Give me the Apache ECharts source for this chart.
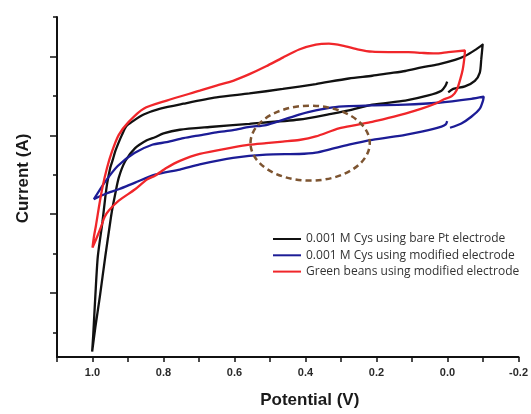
<!DOCTYPE html>
<html>
<head>
<meta charset="utf-8">
<script src="https://cdn.jsdelivr.net/npm/echarts@6/dist/echarts.min.js"></script>
<style>
html,body{margin:0;padding:0;background:#fff;}
#chart{width:531px;height:414px;}
</style>
</head>
<body>
<div id="chart"></div>
<script>
// Potential (V) and current (arbitrary units) for each voltammogram, in scan order
var blackV = [-0.002,-0.016,-0.049,-0.077,-0.091,-0.095,-0.099,
  -0.077,-0.049,-0.021,0.026,0.073,0.119,0.166,0.212,0.278,0.371,0.464,0.558,0.651,0.744,0.809,0.856,0.889,0.905,0.917,0.927,0.936,0.943,0.950,0.959,0.964,0.972,0.985,0.992,0.998,1.001,
  0.992,0.979,0.964,0.950,0.945,0.936,0.926,0.908,0.880,0.847,0.824,0.800,0.754,0.670,0.558,0.418,0.324,0.278,0.212,0.119,0.054,0.017,0.006,0.001];
var blackI = [60.9,61.75,62.4,63.8,65.9,69.25,73,
  71.6,70.1,69.1,68,67.2,66.3,65.7,65.1,64.4,63,61.75,60.6,59.6,58,56.75,55.25,53.4,52.25,50.1,48,45.9,43.75,41.75,37.6,34.25,28,19.25,9.25,-0.75,-4.9,
  1.25,9.25,19.25,28,30.9,35.1,39.25,43.4,46.75,48.75,49.5,50.5,51.4,52.1,52.9,54,55.5,56.3,57.75,58.8,60.1,61.3,62.5,63.6];

var blueV = [-0.007,-0.039,-0.067,-0.091,-0.100,-0.102,
  -0.067,0.026,0.119,0.212,0.278,0.324,0.371,0.418,0.464,0.511,0.558,0.604,0.651,0.698,0.744,0.791,0.832,0.882,0.929,0.966,0.996,
  0.964,0.926,0.880,0.824,0.754,0.698,0.604,0.511,0.418,0.371,0.324,0.278,0.212,0.119,0.073,0.017,0.005,0.001];
var blueI = [51.9,53,54.7,56.75,58.8,59.8,
  59.25,58.25,57.75,57.6,57.4,57.1,56.3,55.25,53.9,52.6,52.1,51.3,50.75,50,49.25,48.25,47.6,45.5,42.2,38,33.8,
  35.1,36.3,38,40,41.3,42.6,44.25,45.1,45.25,45.6,46.6,47.6,48.8,50.1,50.9,52.2,52.75,53.6];

var redV = [0.007,0.035,0.073,0.119,0.166,0.212,0.259,0.306,0.371,0.418,0.464,0.511,0.558,0.604,0.698,0.754,0.791,0.824,0.847,0.880,0.926,0.954,0.966,0.976,0.987,1.000,
  0.996,0.990,0.982,0.972,0.959,0.945,0.926,0.898,0.856,0.791,0.698,0.651,0.604,0.558,0.511,0.464,0.418,0.371,0.334,0.296,0.250,0.212,0.166,0.110,0.073,0.035,-0.002,-0.049,
  -0.048,-0.043,-0.036,-0.026,-0.013,0.007];
var redI = [59.25,58,56.75,55.5,54.4,53.4,52.6,51.75,49.7,48.8,48.4,48,47.6,46.9,45.25,43.5,41.75,39.75,38.75,36.3,33.4,30.9,29.25,26.75,24.25,21.5,
  24.25,27.25,31.75,36.75,41.75,45.9,50.1,53.4,56.75,58.8,61.3,62.6,63.8,65.5,67.5,69.7,71.75,73,73.25,72.75,71.75,71.2,71.1,71.1,70.9,70.75,71.1,71.5,
  70,66.75,64.25,61.5,60,59.25];

var seriesNames = ['0.001 M Cys using bare Pt electrode','0.001 M Cys using modified electrode','Green beans using modified electrode'];
var seriesColors = ['#111111','#1c1c96','#f0262a'];

var xTickLabels = ['1.0','0.8','0.6','0.4','0.2','0.0','-0.2'];
var yMajorTicks = [10,30,50,70];
var yMinorTicks = [0,20,40,60,80];

// dashed annotation ellipse (data units): centre potential, centre current, half-width (V), half-height (current)
var ringCenter = [0.387, 48];
var ringRadius = [0.168, 9.5];

function zip(a,b){ var r=[]; for(var i=0;i<a.length;i++) r.push([a[i],b[i]]); return r; }

var chart = echarts.init(document.getElementById('chart'), null, {renderer:'canvas'});
var axisFont = 'Liberation Sans, Arial, sans-serif';
var option = {
  animation:false,
  backgroundColor:'#ffffff',
  grid:{left:57,right:10.5,top:17,bottom:52,containLabel:false},
  legend:{
    orient:'vertical', left:268, top:227,
    icon:'rect', itemWidth:28, itemHeight:2, itemGap:2.3,
    textStyle:{fontFamily:'Open Sans, sans-serif', fontSize:12, color:'#333', lineHeight:14},
    data:seriesNames
  },
  xAxis:{
    type:'value', inverse:true, min:-0.2, max:1.1, interval:0.1,
    name:'Potential (V)', nameLocation:'middle', nameGap:35,
    nameTextStyle:{fontFamily:axisFont, fontWeight:'bold', fontSize:17, color:'#1a1a1a', padding:[0,0,0,44]},
    axisLine:{onZero:false, lineStyle:{color:'#111',width:2}},
    axisTick:{inside:false,length:5,lineStyle:{color:'#111',width:1.5}},
    axisLabel:{margin:10, fontFamily:axisFont, fontWeight:'bold', fontSize:11, color:'#2a2a2a', hideOverlap:false, showMinLabel:true, showMaxLabel:true,
      formatter:function(v){ var k=Math.round(v*10); if(k%2!==0) return ''; var s=(k/10).toFixed(1); return xTickLabels.indexOf(s)>=0?s:''; }},
    splitLine:{show:false}
  },
  yAxis:[{
    type:'value', min:-6.25, max:80,
    name:'Current (A)', nameLocation:'middle', nameGap:25,
    nameTextStyle:{fontFamily:axisFont, fontWeight:'bold', fontSize:17, color:'#1a1a1a', padding:[0,0,0,17]},
    axisLine:{show:true, onZero:false, lineStyle:{color:'#111',width:2}},
    axisTick:{show:true,length:7,customValues:yMajorTicks,lineStyle:{color:'#111',width:1.5}},
    axisLabel:{show:false},
    splitLine:{show:false}
  },{
    type:'value', min:-6.25, max:80, position:'left', offset:0,
    axisLine:{show:false, onZero:false},
    axisTick:{show:true,length:4,customValues:yMinorTicks,lineStyle:{color:'#111',width:1.5}},
    axisLabel:{show:false},
    splitLine:{show:false}
  }],
  series:[
    {name:seriesNames[0], type:'line', data:zip(blackV,blackI), showSymbol:false, symbol:'none', smooth:0.25, color:seriesColors[0], lineStyle:{color:seriesColors[0],width:2.3}},
    {name:seriesNames[1], type:'line', data:zip(blueV,blueI), showSymbol:false, symbol:'none', smooth:0.25, color:seriesColors[1], lineStyle:{color:seriesColors[1],width:2.3}},
    {name:seriesNames[2], type:'line', data:zip(redV,redI), showSymbol:false, symbol:'none', smooth:0.25, color:seriesColors[2], lineStyle:{color:seriesColors[2],width:2.3}}
  ]
};
chart.setOption(option);

var c = chart.convertToPixel({gridIndex:0}, ringCenter);
var e = chart.convertToPixel({gridIndex:0}, [ringCenter[0]-ringRadius[0], ringCenter[1]+ringRadius[1]]);
chart.setOption({graphic:[{
  type:'ellipse', silent:true, z:10,
  shape:{cx:c[0], cy:c[1], rx:Math.abs(e[0]-c[0]), ry:Math.abs(c[1]-e[1])},
  style:{fill:'none', stroke:'#7d5430', lineWidth:2.5, lineDash:[6,4]}
}]});
</script>
</body>
</html>
